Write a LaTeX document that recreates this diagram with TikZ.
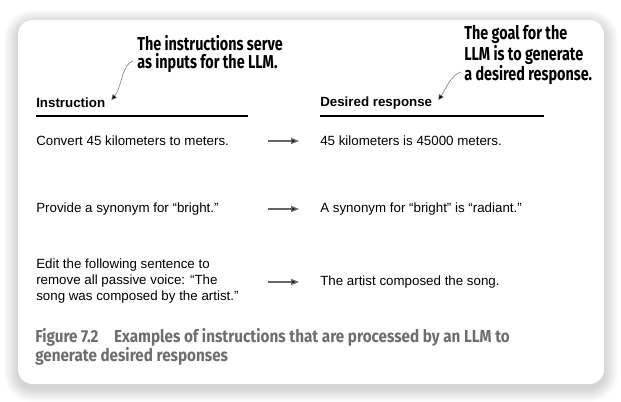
\documentclass[tikz,border=0pt]{standalone}
\usepackage{fontspec}
\setmainfont{Liberation Sans}
\newfontfamily\notefont{Fira Sans}[FakeStretch=0.77]
\newfontfamily\capfont{Fira Sans}[FakeStretch=0.88]
\usetikzlibrary{arrows.meta, positioning}

\begin{document}
\begin{tikzpicture}[x=0.75pt, y=-0.75pt,
  card/.style={fill=white, rounded corners=11pt},
  body/.style={anchor=west, inner sep=0pt, align=left,
    font=\fontsize{10}{12}\selectfont},
  head/.style={anchor=west, inner sep=0pt,
    font=\fontsize{10}{12}\selectfont\bfseries},
  callout/.style={anchor=west, inner sep=0pt, align=left,
    font=\notefont\bfseries\fontsize{14}{14}\selectfont},
  caption/.style={anchor=north west, inner sep=0pt, align=left,
    text=black!57, font=\capfont\bfseries\fontsize{13}{14.5}\selectfont},
  rule/.style={line width=0.9pt},
  flow/.style={-{Triangle[length=6pt, width=4.5pt, fill=black]},
    line width=1pt, draw=black!60},
  pointer/.style={-{Triangle[length=4pt, width=4pt, fill=black]},
    line width=0.4pt, draw=black!55}
]
\useasboundingbox (0,0) rectangle (621,402);

%% -- card with soft shadow --
\foreach \k in {1,...,14}{
  \pgfmathsetmacro\rc{11+0.75*\k}
  \fill[black, opacity=0.012, rounded corners=\rc pt]
    (18-\k,24-\k) rectangle (604+\k,388+\k);
}
\fill[card] (18,20) rectangle (604,384);

%% -- callouts --
\node[callout] (noteA) at (137,54) {The instructions serve\\as inputs for the LLM.};
\node[callout] (noteB) at (464,55) {The goal for the\\LLM is to generate\\a desired response.};

%% -- column heads --
\node[head] (instr) at (36,103) {Instruction};
\node[head] (resp)  at (320,103) {Desired response};
\draw[rule] (36,116) -- (248,116);
\draw[rule] (320,116) -- (544,116);

\draw[pointer] ([shift={(-4,7)}]noteA.west)
  .. controls +(-11,3) and +(10,-12) .. ([shift={(6,-3)}]instr.east);
\draw[pointer] ([shift={(-3,17)}]noteB.west)
  .. controls +(-10,3) and +(8,-12) .. ([shift={(6,-3)}]resp.east);

%% -- examples --
\node[body] (in1)  at (36,141)  {Convert 45 kilometers to meters.};
\node[body] (out1) at (320,141) {45 kilometers is 45000 meters.};
\node[body] (in2)  at (36,209)  {Provide a synonym for “bright.”};
\node[body] (out2) at (320,209) {A synonym for “bright” is “radiant.”};
\node[body] (in3)  at (36,281)  {Edit the following sentence to\\remove all passive voice: “The\\song was composed by the artist.”};
\node[body] (out3) at (320,282) {The artist composed the song.};

\foreach \o in {out1,out2,out3}
  \draw[flow] (\o.west) ++(-52,0) -- ++(31,0);

%% -- caption --
\node[caption] (cap) at (35,328) {Figure 7.2\hspace{0.9em}Examples of instructions that are processed by an LLM to\\generate desired responses};

\end{tikzpicture}
\end{document}
